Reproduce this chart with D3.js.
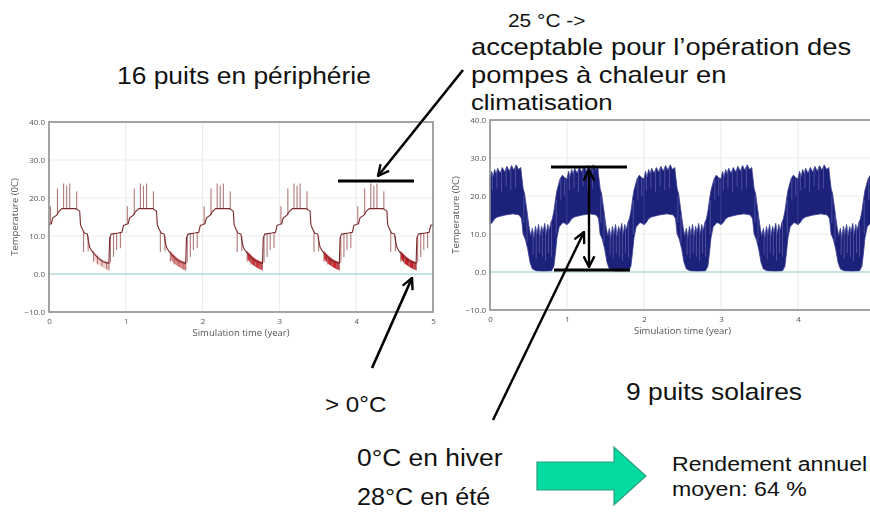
<!DOCTYPE html>
<html>
<head>
<meta charset="utf-8">
<script src="https://cdn.jsdelivr.net/npm/d3@7"></script>
<style>
  html, body { margin: 0; padding: 0; background: #fff; overflow: hidden; }
  svg { display: block; }
</style>
</head>
<body>
<svg id="slide" width="870" height="517"></svg>
<script>
// ---------- data ----------
const xTicks = [0, 1, 2, 3, 4, 5];
const yTicks = [-10, 0, 10, 20, 30, 40];
const years = [0, 1, 2, 3, 4];

// Peripheral field (16 wells): mean fluid temperature over one year [year fraction, °C]
const periBase = [
  [0.00, 13.0], [0.03, 13.2], [0.05, 14.8], [0.10, 15.5], [0.13, 16.5], [0.17, 17.2],
  [0.35, 17.2], [0.38, 16.8], [0.40, 16.5], [0.41, 13.0], [0.43, 12.0], [0.46, 10.8],
  [0.50, 10.5], [0.51, 9.0], [0.53, 7.0], [0.56, 6.0], [0.60, 5.0], [0.65, 4.0],
  [0.70, 3.3], [0.74, 3.0], [0.78, 2.8], [0.79, 9.5], [0.81, 10.5], [0.90, 10.8],
  [0.95, 11.0], [0.97, 12.8], [1.00, 13.0]
];
// Short peaks during summer and dips during winter [year fraction, from °C, to °C]
const periSpikes = [
  [0.02, 13.2, 17.8], [0.11, 15.5, 22.5], [0.19, 17.2, 23.8], [0.23, 17.2, 23.2],
  [0.27, 17.2, 23.8], [0.36, 17.0, 21.8],
  [0.45, 11.0, 5.8], [0.51, 10.0, 6.0], [0.58, 6.0, 3.2], [0.63, 4.8, 2.5],
  [0.69, 3.5, 2.0], [0.75, 3.1, 1.2], [0.78, 2.9, 0.9],
  [0.80, 3.0, 9.8], [0.84, 10.5, 4.5], [0.88, 10.7, 6.3], [0.93, 10.9, 6.8]
];
// Winter cycling band [year fraction, upper °C, lower °C] and its density per year
const periWinter = [
  [0.58, 6.0, 4.0], [0.62, 5.2, 3.0], [0.66, 4.4, 2.3], [0.70, 3.8, 1.8],
  [0.74, 3.4, 1.3], [0.785, 3.1, 1.0]
];
const periWinterDensity = [0.2, 0.55, 0.85, 0.9, 0.95];

// Solar field (9 wells): envelope of the oscillating fluid temperature [year fraction, °C]
const solarUpper = [
  [0.00, 24.5], [0.02, 26.5], [0.04, 25.0], [0.06, 27.0], [0.08, 25.8], [0.10, 27.3],
  [0.13, 26.0], [0.16, 27.5], [0.19, 26.3], [0.22, 27.8], [0.25, 26.5], [0.28, 28.0],
  [0.31, 26.8], [0.34, 28.2], [0.37, 27.0], [0.40, 27.5], [0.41, 25.5], [0.43, 22.0],
  [0.45, 20.5], [0.47, 17.5], [0.49, 14.5], [0.51, 11.5], [0.53, 9.5], [0.55, 11.5],
  [0.57, 9.0], [0.59, 12.0], [0.61, 10.0], [0.63, 12.5], [0.65, 9.5], [0.67, 12.0],
  [0.69, 10.5], [0.71, 12.8], [0.73, 10.0], [0.75, 12.5], [0.77, 11.0], [0.79, 13.0],
  [0.81, 14.0], [0.83, 16.0], [0.85, 19.0], [0.87, 21.5], [0.89, 23.0], [0.91, 24.5],
  [0.94, 25.5], [0.97, 24.8], [1.00, 24.5]
];
const solarLower = [
  [0.00, 12.5], [0.03, 13.0], [0.06, 14.0], [0.10, 14.5], [0.20, 15.0], [0.30, 15.3],
  [0.38, 15.0], [0.41, 14.0], [0.43, 10.0], [0.46, 8.5], [0.49, 6.0], [0.52, 2.5],
  [0.55, 0.8], [0.60, 0.3], [0.70, 0.2], [0.80, 0.3], [0.83, 1.5], [0.85, 5.0],
  [0.87, 9.0], [0.90, 12.0], [0.95, 13.0], [1.00, 12.5]
];
// Lighter cycling streaks inside the solar band [year fraction, from °C, to °C]
const solarStreaks = [
  [0.03, 21.5, 26.0], [0.09, 22.0, 26.8], [0.15, 21.0, 27.0], [0.21, 22.5, 27.4],
  [0.27, 21.5, 27.6], [0.33, 22.0, 27.8], [0.44, 13.0, 20.0], [0.48, 8.0, 15.0],
  [0.56, 4.5, 10.5], [0.60, 3.5, 11.5], [0.64, 5.0, 12.0], [0.68, 4.0, 11.0],
  [0.72, 3.0, 12.3], [0.76, 5.0, 12.0], [0.80, 4.0, 13.0], [0.86, 10.0, 19.0],
  [0.92, 19.0, 24.5], [0.97, 20.0, 24.5]
];

// ---------- drawing ----------
const svg = d3.select("#slide");
const defs = svg.append("defs");
defs.append("filter").attr("id", "soft")
  .append("feGaussianBlur").attr("stdDeviation", 0.35);
const fmt = d3.format(".1f");

function frame(x0, x1, yTop, yBot, shownX) {
  const x = d3.scaleLinear().domain([0, 5]).range([x0, x1]);
  const y = d3.scaleLinear().domain([-10, 40]).range([yBot, yTop]);
  const g = svg.append("g").attr("filter", "url(#soft)");

  g.selectAll("line.vg").data(xTicks.slice(1, -1)).join("line")
    .attr("x1", d => x(d)).attr("x2", d => x(d))
    .attr("y1", yTop).attr("y2", yBot)
    .attr("stroke", "#e9e9e9").attr("stroke-width", 1);
  g.selectAll("line.hg").data([10, 20, 30]).join("line")
    .attr("x1", x0).attr("x2", x1)
    .attr("y1", d => y(d)).attr("y2", d => y(d))
    .attr("stroke", "#ececec").attr("stroke-width", 1);

  const plot = g.append("g");

  g.append("line")
    .attr("x1", x0).attr("x2", x1).attr("y1", y(0)).attr("y2", y(0))
    .attr("stroke", "#8fcaca").attr("stroke-width", 1.2);

  g.append("rect")
    .attr("x", x0).attr("y", yTop).attr("width", x1 - x0).attr("height", yBot - yTop)
    .attr("fill", "none").attr("stroke", "#8c8c8c").attr("stroke-width", 1.6);

  const yAxis = d3.axisLeft(y).tickValues(yTicks).tickFormat(fmt).tickSize(0).tickPadding(4);
  const xAxis = d3.axisBottom(x).tickValues(shownX).tickFormat(d3.format("d")).tickSize(0).tickPadding(6);
  const ya = g.append("g").attr("transform", `translate(${x0},0)`).call(yAxis);
  const xa = g.append("g").attr("transform", `translate(0,${yBot})`).call(xAxis);
  [ya, xa].forEach(a => {
    a.select(".domain").remove();
    a.selectAll("text").attr("font-family", "'Open Sans', sans-serif")
      .attr("font-size", 8).attr("fill", "#555");
  });

  g.append("text")
    .attr("transform", `translate(${x0 - 31},${(yTop + yBot) / 2}) rotate(-90)`)
    .attr("text-anchor", "middle")
    .attr("font-family", "'Open Sans', sans-serif").attr("font-size", 9.5).attr("fill", "#555")
    .text("Temperature (0C)");
  g.append("text")
    .attr("x", x(2.5)).attr("y", yBot + 24)
    .attr("text-anchor", "middle")
    .attr("font-family", "'Open Sans', sans-serif").attr("font-size", 9.5).attr("fill", "#555")
    .text("Simulation time (year)");

  return { plot, x, y };
}

// Left chart: peripheral wells
{
  const { plot, x, y } = frame(49, 433, 122, 312, xTicks);
  const line = d3.line().x(d => x(d[0])).y(d => y(d[1]));
  years.forEach((yr, i) => {
    const band = d3.area()
      .x(d => x(yr + d[0])).y0(d => y(d[2])).y1(d => y(d[1]));
    plot.append("path").datum(periWinter).attr("d", band)
      .attr("fill", "#c8101a").attr("opacity", periWinterDensity[i]);
    plot.selectAll(null).data(periSpikes).join("line")
      .attr("x1", d => x(yr + d[0])).attr("x2", d => x(yr + d[0]))
      .attr("y1", d => y(d[1])).attr("y2", d => y(d[2]))
      .attr("stroke", "#b07a78").attr("stroke-width", 1.1);
    plot.append("path").datum(periBase.map(d => [yr + d[0], d[1]]))
      .attr("d", line).attr("fill", "none")
      .attr("stroke", "#7a2a2a").attr("stroke-width", 1.1);
  });
}

// Right chart: solar wells (axis runs past the slide edge, last label hidden)
{
  const { plot, x, y } = frame(490, 875, 120, 310, xTicks.slice(0, -1));
  const lowerAt = d3.scaleLinear().domain(solarLower.map(d => d[0])).range(solarLower.map(d => d[1]));
  const upperAt = d3.scaleLinear().domain(solarUpper.map(d => d[0])).range(solarUpper.map(d => d[1]));
  years.forEach(yr => {
    const pts = solarUpper.map(d => ({ t: d[0], hi: d[1], lo: lowerAt(d[0]) }))
      .concat(solarLower.map(d => ({ t: d[0], hi: upperAt(d[0]), lo: d[1] })))
      .sort((a, b) => a.t - b.t);
    const area = d3.area().x(d => x(yr + d.t)).y0(d => y(d.lo)).y1(d => y(d.hi));
    plot.append("path").datum(pts).attr("d", area)
      .attr("fill", "#1c2079").attr("stroke", "#3a3e92").attr("stroke-width", 0.8);
    plot.selectAll(null).data(solarStreaks).join("line")
      .attr("x1", d => x(yr + d[0])).attr("x2", d => x(yr + d[0]))
      .attr("y1", d => y(d[1])).attr("y2", d => y(d[2]))
      .attr("stroke", "#7c80c2").attr("stroke-width", 0.9).attr("opacity", 0.55);
  });
}

// ---------- annotations ----------
const ann = svg.append("g");
defs.append("marker").attr("id", "vhead")
  .attr("viewBox", "0 0 12 12").attr("refX", 11).attr("refY", 6)
  .attr("markerWidth", 13).attr("markerHeight", 13).attr("markerUnits", "userSpaceOnUse")
  .attr("orient", "auto-start-reverse")
  .append("path").attr("d", "M1,1 L11,6 L1,11").attr("fill", "none")
  .attr("stroke", "#000").attr("stroke-width", 2.2);

function seg(x1, y1, x2, y2, w, head, both) {
  const l = ann.append("line").attr("x1", x1).attr("y1", y1).attr("x2", x2).attr("y2", y2)
    .attr("stroke", "#000").attr("stroke-width", w);
  if (head) l.attr("marker-end", "url(#vhead)");
  if (both) l.attr("marker-start", "url(#vhead)");
}
// 25 °C marker on the peripheral chart
seg(338, 181, 414, 181, 3);
seg(463, 70, 378, 176, 2.6, true);
// > 0 °C pointer
seg(372, 368, 412, 278, 2.6, true);
// solar range: 0 °C to 28 °C
seg(551, 167, 627, 167, 3);
seg(554, 270, 630, 270, 3);
seg(589, 170, 589, 267, 2.4, true, true);
seg(493, 420, 584, 232, 2.4, true);

// green arrow
const ga = [[537, 462], [614, 462], [614, 447], [646, 476], [614, 505], [614, 490], [537, 490]];
ann.append("path").attr("d", d3.line()(ga) + "Z")
  .attr("fill", "#04dba0").attr("stroke", "#2c9e7a").attr("stroke-width", 1.2);

// text labels
const labels = [
  { t: "16 puits en périphérie", x: 117, y: 84, s: 24, k: 1.1 },
  { t: "25 °C ->", x: 508, y: 27, s: 19, k: 1.1 },
  { t: "acceptable pour l’opération des", x: 471, y: 55, s: 23, k: 1.19 },
  { t: "pompes à chaleur en", x: 471, y: 83, s: 23, k: 1.19 },
  { t: "climatisation", x: 471, y: 110, s: 23, k: 1.12 },
  { t: "> 0°C", x: 325, y: 412, s: 22, k: 1.1 },
  { t: "9 puits solaires", x: 626, y: 400, s: 24, k: 1.1 },
  { t: "0°C en hiver", x: 357, y: 466, s: 24, k: 1.1 },
  { t: "28°C en été", x: 357, y: 505, s: 24, k: 1.05 },
  { t: "Rendement annuel", x: 672, y: 471, s: 21, k: 1.1 },
  { t: "moyen: 64 %", x: 672, y: 496, s: 21, k: 1.1 }
];
ann.selectAll("g.lab").data(labels).join("g")
  .attr("transform", d => `translate(${d.x},${d.y}) scale(${d.k},1)`)
  .append("text")
  .attr("font-family", "'Liberation Sans', Arial, sans-serif")
  .attr("font-size", d => d.s).attr("fill", "#111")
  .text(d => d.t);
</script>
</body>
</html>
